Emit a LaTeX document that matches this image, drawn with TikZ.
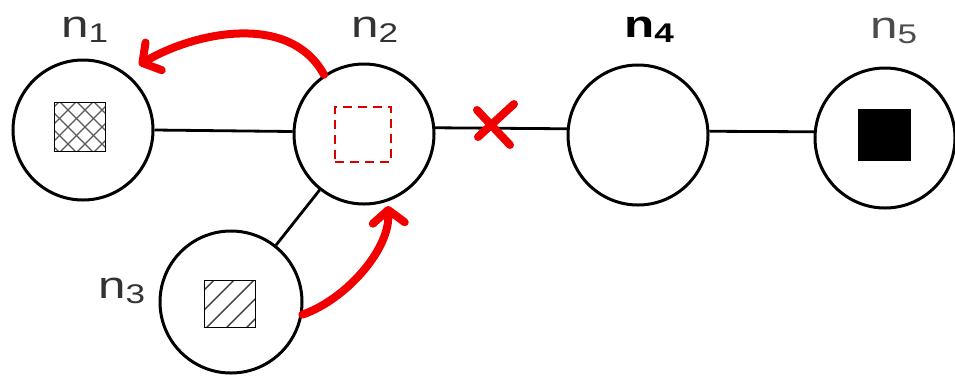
\documentclass[tikz,border=0pt]{standalone}
\usepackage{fontspec}
\setmainfont{Liberation Sans}
\usetikzlibrary{arrows.meta}
\newcommand{\nlab}[2]{\scalebox{1.3}[1]{{\fontsize{38}{38}\selectfont n}\raisebox{-5pt}{\fontsize{27}{27}\selectfont #1}}}
\begin{document}
\begin{tikzpicture}[x=1pt,y=-1pt,
  vtx/.style={circle,draw=black,line width=3pt,minimum size=140pt,inner sep=0pt},
  edge/.style={line width=2.8pt},
  sq/.style={draw=black,line width=1.8pt,inner sep=0pt},
  redarrow/.style={draw=red!95!black,line width=8pt,line cap=round,
    -{Straight Barb[length=13pt,width=32pt,round]}},
  lbl/.style={inner sep=0pt,anchor=base west}
]
\useasboundingbox (0,0) rectangle (955,376);
\fill[white] (0,0) rectangle (955,376);

% vertices
\node[vtx] (n1) at (83,130) {};
\node[vtx] (n2) at (364,134) {};
\node[vtx,minimum size=142pt] (n3) at (231,302) {};
\node[vtx] (n4) at (638,135) {};
\node[vtx] (n5) at (885,138) {};

% edges
\draw[edge] (n1.0) -- (n2.178);
\draw[edge] (n2.5) -- (n4.175);
\draw[edge] (n4.3) -- (n5.175);
\draw[edge] (n3) -- (n2);

% squares
\node[sq,minimum width=51pt,minimum height=49pt,
  path picture={
    \foreach \i in {-80,-63,...,80}{
      \draw[line width=1.3pt,black!65] ([xshift=\i pt]path picture bounding box.center) ++(-40,40) -- ++(80,-80);
      \draw[line width=1.3pt,black!65] ([xshift=\i pt]path picture bounding box.center) ++(-40,-40) -- ++(80,80);
    }}] (s1) at (80,127) {};
\node[sq,minimum width=51pt,minimum height=47pt,
  path picture={
    \foreach \i in {-80,-60,...,80}{
      \draw[line width=1.4pt,black!75] ([xshift=\i pt]path picture bounding box.center) ++(-40,40) -- ++(80,-80);
    }}] (s3) at (230,304) {};
\node[draw=red!85!black,line width=2.7pt,dash pattern=on 9pt off 6pt,
  minimum width=56pt,minimum height=55pt,inner sep=0pt] (s2) at (363,134.5) {};
\node[fill=black,minimum width=53pt,minimum height=52pt,inner sep=0pt] (s5) at (884.5,135) {};

% labels
\node[lbl,text=black!80] (l1) at (61,37) {\nlab{1}{}};
\node[lbl,text=black!80] (l2) at (351,37) {\nlab{2}{}};
\node[lbl,text=black!80] (l3) at (98,298) {\nlab{3}{}};
\node[lbl,text=black] (l4) at (624,37) {\bfseries\nlab{4}{}};
\node[lbl,text=black!70] (l5) at (870,38) {\nlab{5}{}};

% red cross on edge n2-n4
\coordinate (xc) at (494,126);
\draw[red!95!black,line width=8pt,line cap=round] ([shift={(-17,-16)}]xc) -- ([shift={(16,19)}]xc);
\draw[red!95!black,line width=8pt,line cap=round] ([shift={(20,-22)}]xc) -- ([shift={(-16,11)}]xc);

% red arrows
\coordinate (a1end) at (139,65);
\coordinate (a2end) at (388,206);
\draw[redarrow] (n2.124) .. controls (290,12) and (195,32) .. (a1end);
\draw[redarrow] (n3.-10) .. controls (345,300) and (390,250) .. (a2end);
\end{tikzpicture}
\end{document}
